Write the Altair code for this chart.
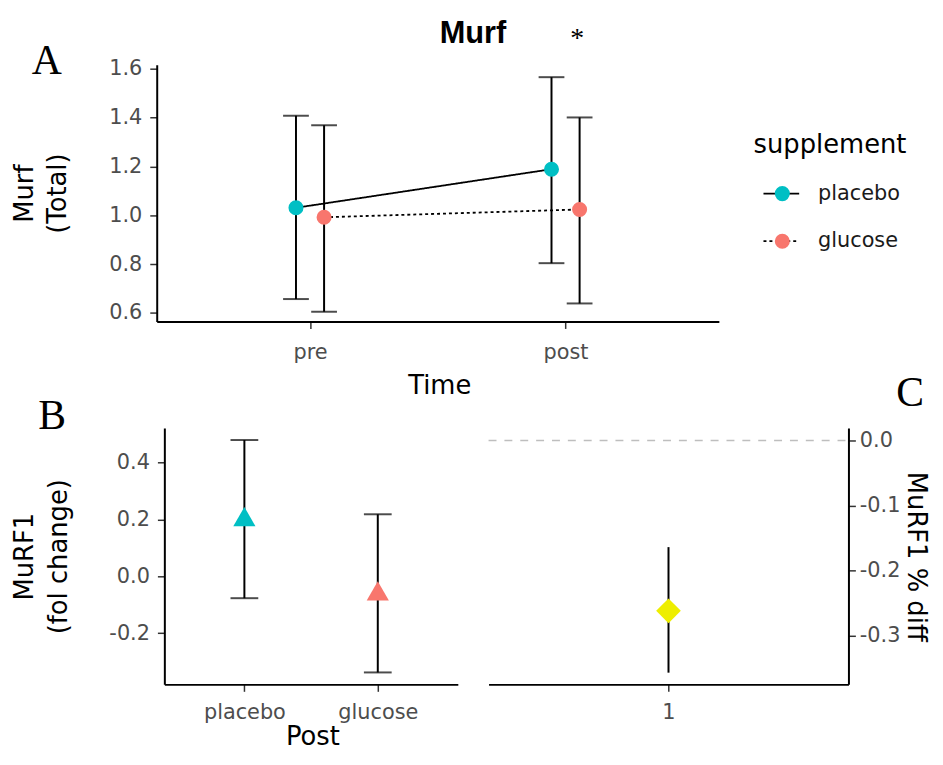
import json
import altair as alt
import pandas as pd

# ---------------- data ----------------
times = ["pre", "post"]
supplements = ["placebo", "glucose"]
supp_colors = ["#00BFC4", "#F8766D"]

placebo_mean = [1.031, 1.189]
placebo_lo = [0.657, 0.804]
placebo_hi = [1.408, 1.566]
glucose_mean = [0.992, 1.024]
glucose_lo = [0.605, 0.639]
glucose_hi = [1.369, 1.401]

fold_mean = [0.210, -0.051]
fold_lo = [-0.077, -0.338]
fold_hi = [0.479, 0.218]

diff_group = ["1"]
diff_mean = [-0.262]
diff_lo = [-0.357]
diff_hi = [-0.164]
ref_line = [0.0]

top_ticks = [0.6, 0.8, 1.0, 1.2, 1.4, 1.6]
b_ticks = [-0.2, 0.0, 0.2, 0.4]
c_ticks = [0.0, -0.1, -0.2, -0.3]

# ---------------- style / layout ----------------
W, H = 935, 745                # whole drawing area (single layered view)
FONT = "DejaVu Sans"
SERIF = "Liberation Serif"
TICK_FS = 21
TITLE_FS = 26
LABEL_COLOR = "#4D4D4D"
DODGE = 0.055
FMT = "replace(format(datum.value, '.1f'), '\u2212', '-')"

# panel frames in pixels: (left, right, top, bottom)
A_BOX = (150, 717, 54, 313)
B_BOX = (157.7, 453.7, 420.5, 679)
C_BOX = (484.7, 847.7, 420.5, 679)

a_xdomain = [0.4, 2.6]
a_ydomain = [0.565, 1.617]
b_xdomain = [0.4, 2.6]
b_ydomain = [-0.380, 0.521]
c_xdomain = [0.4, 1.6]
c_ydomain = [-0.375, 0.019]


def axis(**kw):
    base = dict(
        domainColor="black", domainWidth=2, tickColor="#333333", tickWidth=1.5,
        tickSize=7, labelColor=LABEL_COLOR, labelFontSize=TICK_FS, labelFont=FONT,
        titleFont=FONT, titleFontSize=TITLE_FS, titleFontWeight="normal",
        titleColor="black", grid=False, labelPadding=8,
    )
    base.update(kw)
    return alt.Axis(**base)


def xscale(box, dom):
    return alt.Scale(domain=dom, range=[box[0], box[1]], nice=False, zero=False)


def yscale(box, dom):
    return alt.Scale(domain=dom, range=[box[3], box[2]], nice=False, zero=False)


def note(text, x, y, size=42, font=SERIF, weight="normal", align="center", baseline="alphabetic"):
    return alt.Chart(pd.DataFrame({"t": [text]})).mark_text(
        font=font, fontSize=size, fontWeight=weight, align=align, baseline=baseline, color="black"
    ).encode(x=alt.value(x), y=alt.value(y), text="t:N")


color_scale = alt.Scale(domain=supplements, range=supp_colors)
dash_scale = alt.Scale(domain=supplements, range=[[1, 0], [3, 3]])

# ---------------- panel A ----------------
rows = []
series = [
    ("placebo", placebo_mean, placebo_lo, placebo_hi),
    ("glucose", glucose_mean, glucose_lo, glucose_hi),
]
for si, (name, m, lo, hi) in enumerate(series):
    for ti, t in enumerate(times):
        rows.append({"time": t, "supplement": name,
                     "x": ti + 1 + (si - 0.5) * 2 * DODGE,
                     "mean": m[ti], "lo": lo[ti], "hi": hi[ti]})
top_df = pd.DataFrame(rows)

ax_a_x = axis(values=[1, 2], labelExpr=f"{json.dumps(times)}[datum.value - 1]",
              title="Time", orient="bottom", offset=A_BOX[3] - H, labelPadding=13,
              titleX=435, titleY=73, titleBaseline="alphabetic", titleAlign="center")
ax_a_y = axis(values=top_ticks, labelExpr=FMT, title=["Murf", "(Total)"], orient="left",
              offset=-A_BOX[0], titleAngle=270, titleX=-125, titleY=(A_BOX[2] + A_BOX[3]) / 2,
              titleBaseline="alphabetic", titleAlign="center", titleLineHeight=33)
XA = dict(scale=xscale(A_BOX, a_xdomain), axis=ax_a_x)
YA = dict(scale=yscale(A_BOX, a_ydomain), axis=ax_a_y)

base_top = alt.Chart(top_df)
err_a = base_top.mark_errorbar(ticks=True, size=26, thickness=2, color="black").encode(
    x=alt.X("x:Q", **XA), y=alt.Y("lo:Q", **YA), y2="hi:Q",
)
line_a = base_top.mark_line(color="black", strokeWidth=1.8).encode(
    x=alt.X("x:Q", **XA), y=alt.Y("mean:Q", **YA),
    strokeDash=alt.StrokeDash("supplement:N", scale=dash_scale, legend=None),
    detail="supplement:N",
)
pts_a = base_top.mark_point(filled=True, size=230, opacity=1).encode(
    x=alt.X("x:Q", **XA), y=alt.Y("mean:Q", **YA),
    color=alt.Color("supplement:N", scale=color_scale, legend=None),
)
panel_a = alt.layer(
    err_a, line_a, pts_a,
    note("Murf", 469, 32, size=31, font="Liberation Sans", weight="bold"),
    note("*", 574, 36, size=28),
    note("A", 39, 63),
)

# ---------------- legend ----------------
leg_df = pd.DataFrame({"supplement": supplements})
leg_y = alt.Y("supplement:N", scale=alt.Scale(type="point", domain=supplements, range=[184, 232], padding=0),
              axis=None)
leg_rule = alt.Chart(leg_df).mark_rule(color="black", strokeWidth=1.8).encode(
    x=alt.value(762), x2=alt.value(798), y=leg_y,
    strokeDash=alt.StrokeDash("supplement:N", scale=dash_scale, legend=None),
)
leg_pt = alt.Chart(leg_df).mark_point(filled=True, size=230, opacity=1).encode(
    x=alt.value(781), y=leg_y,
    color=alt.Color("supplement:N", scale=color_scale, legend=None),
)
leg_txt = alt.Chart(leg_df).mark_text(
    align="left", baseline="middle", fontSize=TICK_FS, color="#1A1A1A", font=FONT
).encode(x=alt.value(817), y=leg_y, text="supplement:N")
legend = alt.layer(
    leg_rule, leg_pt, leg_txt,
    note("supplement", 752, 135, size=TITLE_FS, font=FONT, align="left", baseline="middle"),
)

# ---------------- panel B ----------------
b_df = pd.DataFrame({"supplement": supplements, "x": [1, 2],
                     "mean": fold_mean, "lo": fold_lo, "hi": fold_hi})
ax_b_x = axis(values=[1, 2], labelExpr=f"{json.dumps(supplements)}[datum.value - 1]",
              title="Post", orient="bottom", offset=B_BOX[3] - H, labelPadding=10,
              titleX=307, titleY=61, titleBaseline="alphabetic", titleAlign="center")
ax_b_y = axis(values=b_ticks, labelExpr=FMT, title=["MuRF1", "(fol change)"], orient="left",
              offset=-B_BOX[0], titleAngle=270, titleX=-132.7, titleY=(B_BOX[2] + B_BOX[3]) / 2,
              titleBaseline="alphabetic", titleAlign="center", titleLineHeight=34)
XB = dict(scale=xscale(B_BOX, b_xdomain), axis=ax_b_x)
YB = dict(scale=yscale(B_BOX, b_ydomain), axis=ax_b_y)

err_b = alt.Chart(b_df).mark_errorbar(ticks=True, size=28, thickness=2, color="black").encode(
    x=alt.X("x:Q", **XB), y=alt.Y("lo:Q", **YB), y2="hi:Q",
)
pts_b = alt.Chart(b_df).mark_point(shape="triangle-up", filled=True, size=500, opacity=1).encode(
    x=alt.X("x:Q", **XB), y=alt.Y("mean:Q", **YB),
    color=alt.Color("supplement:N", scale=color_scale, legend=None),
)
panel_b = alt.layer(err_b, pts_b, note("B", 44.5, 421))

# ---------------- panel C ----------------
c_df = pd.DataFrame({"group": diff_group, "x": [1],
                     "mean": diff_mean, "lo": diff_lo, "hi": diff_hi})
ref_df = pd.DataFrame({"y": ref_line})
ax_c_x = axis(values=[1], labelExpr=f"{json.dumps(diff_group)}[datum.value - 1]",
              title=None, orient="bottom", offset=C_BOX[3] - H, labelPadding=10)
ax_c_y = axis(values=c_ticks, labelExpr=FMT, title="MuRF1 % diff", orient="right",
              offset=C_BOX[1] - W, labelPadding=4, titleAngle=90, titleX=60,
              titleY=(C_BOX[2] + C_BOX[3]) / 2, titleBaseline="alphabetic", titleAlign="center")
XC = dict(scale=xscale(C_BOX, c_xdomain), axis=ax_c_x)
YC = dict(scale=yscale(C_BOX, c_ydomain), axis=ax_c_y)

ref_c = alt.Chart(ref_df).mark_rule(color="#BEBEBE", strokeDash=[8, 8], strokeWidth=1.5).encode(
    x=alt.X(datum=c_xdomain[0], **XC), x2=alt.X2(datum=c_xdomain[1]), y=alt.Y("y:Q", **YC),
)
err_c = alt.Chart(c_df).mark_rule(color="black", strokeWidth=2).encode(
    x=alt.X("x:Q", **XC), y=alt.Y("lo:Q", **YC), y2="hi:Q",
)
pt_c = alt.Chart(c_df).mark_point(shape="diamond", filled=True, size=620, opacity=1,
                                  color="#EEEE00").encode(
    x=alt.X("x:Q", **XC), y=alt.Y("mean:Q", **YC),
)
panel_c = alt.layer(ref_c, err_c, pt_c, note("C", 910, 398))

# ---------------- assemble ----------------
chart = alt.layer(panel_a, legend, panel_b, panel_c).resolve_scale(
    x="independent", y="independent"
).properties(
    width=W, height=H, padding=0, autosize=alt.AutoSizeParams(type="none"),
).configure(font=FONT).configure_view(stroke=None)

chart.save("out.html", embed_options={"renderer": "svg", "actions": False})
